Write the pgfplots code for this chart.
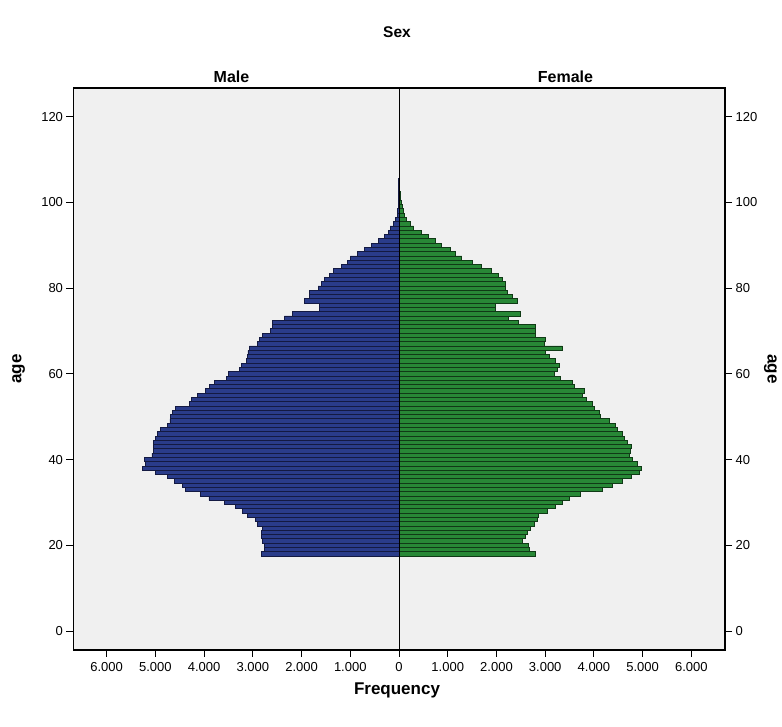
\documentclass[border=0pt]{standalone}
\usepackage{fontspec}
\setmainfont{Liberation Sans}
\usepackage{pgfplots}
\pgfplotsset{compat=1.18}
\definecolor{malefill}{RGB}{42,60,138}
\definecolor{maleedge}{RGB}{20,26,66}
\definecolor{femfill}{RGB}{40,136,54}
\definecolor{femedge}{RGB}{16,58,22}
\definecolor{bgg}{RGB}{240,240,240}
\begin{document}
\begin{tikzpicture}
\begin{axis}[
  at={(0,0)}, anchor=south west,
  width=651.5pt, height=562pt, scale only axis,
  xmin=-6680, xmax=6690, ymin=-4.43, ymax=126.7,
  axis background/.style={fill=bgg},
  axis line style={black, line width=1.1pt},
  tick align=outside, major tick length=7pt,
  tick style={black, line width=1pt},
  xtick pos=bottom, ytick pos=left,
  xtick={-6000,-5000,-4000,-3000,-2000,-1000,0,1000,2000,3000,4000,5000,6000},
  xticklabels={6.000,5.000,4.000,3.000,2.000,1.000,0,1.000,2.000,3.000,4.000,5.000,6.000},
  ytick={0,20,40,60,80,100,120},
  /pgf/number format/assume math mode=true,
  tick label style={font=\fontsize{13}{15}\selectfont},
  xticklabel style={yshift=-2pt},
  xbar, bar width=1, bar shift=0pt,
]
\addplot[xbar, fill=malefill, draw=maleedge, line width=0.9pt] coordinates {
(-2830,18) (-2760,19) (-2760,20) (-2800,21) (-2820,22) (-2830,23) (-2800,24) (-2900,25)
(-2950,26) (-3110,27) (-3210,28) (-3350,29) (-3590,30) (-3900,31) (-4070,32) (-4380,33)
(-4450,34) (-4600,35) (-4760,36) (-5000,37) (-5270,38) (-5200,39) (-5230,40) (-5070,41)
(-5030,42) (-5030,43) (-5030,44) (-5000,45) (-4950,46) (-4890,47) (-4760,48) (-4700,49)
(-4690,50) (-4650,51) (-4580,52) (-4300,53) (-4250,54) (-4140,55) (-3970,56) (-3880,57)
(-3790,58) (-3550,59) (-3500,60) (-3280,61) (-3240,62) (-3140,63) (-3110,64) (-3100,65)
(-3070,66) (-2900,67) (-2870,68) (-2800,69) (-2630,70) (-2590,71) (-2590,72) (-2350,73)
(-2180,74) (-1630,75) (-1630,76) (-1940,77) (-1840,78) (-1840,79) (-1660,80) (-1590,81)
(-1530,82) (-1420,83) (-1340,84) (-1190,85) (-1050,86) (-1000,87) (-860,88) (-710,89)
(-570,90) (-430,91) (-300,92) (-220,93) (-180,94) (-120,95) (-70,96) (-40,97)
(-30,98) (-20,99) (-15,100) (-10,101) (-5,102) (-5,103) (-3,104) (-2,105)
};
\addplot[xbar, fill=femfill, draw=femedge, line width=0.9pt] coordinates {
(2800,18) (2670,19) (2650,20) (2530,21) (2600,22) (2630,23) (2700,24) (2770,25)
(2840,26) (2870,27) (3040,28) (3220,29) (3350,30) (3490,31) (3730,32) (4180,33)
(4380,34) (4590,35) (4760,36) (4930,37) (4970,38) (4900,39) (4800,40) (4730,41)
(4740,42) (4760,43) (4690,44) (4630,45) (4590,46) (4490,47) (4450,48) (4320,49)
(4140,50) (4110,51) (4010,52) (3970,53) (3840,54) (3770,55) (3800,56) (3590,57)
(3560,58) (3320,59) (3180,60) (3250,61) (3290,62) (3220,63) (3080,64) (3010,65)
(3350,66) (2980,67) (3010,68) (2800,69) (2800,70) (2800,71) (2460,72) (2250,73)
(2490,74) (1980,75) (1980,76) (2430,77) (2320,78) (2220,79) (2190,80) (2190,81)
(2120,82) (2050,83) (1900,84) (1700,85) (1500,86) (1290,87) (1150,88) (1050,89)
(880,90) (740,91) (600,92) (470,93) (300,94) (230,95) (160,96) (120,97)
(90,98) (75,99) (55,100) (35,101) (20,102) (12,103) (8,104) (5,105) (3,106)
};
\draw[black, line width=1pt] (axis cs:0,-4.43) -- (axis cs:0,126.7);
\end{axis}
\begin{axis}[
  at={(0,0)}, anchor=south west,
  width=651.5pt, height=562pt, scale only axis,
  xmin=-6680, xmax=6690, ymin=-4.43, ymax=126.7,
  axis x line=none, axis y line*=right,
  axis line style={black, line width=1.1pt},
  tick align=outside, major tick length=7pt,
  tick style={black, line width=1pt},
  ytick={0,20,40,60,80,100,120},
  /pgf/number format/assume math mode=true,
  tick label style={font=\fontsize{13}{15}\selectfont},
]
\addplot[draw=none] coordinates {(0,0)};
\end{axis}
\node[font=\bfseries\fontsize{15.5}{18}\selectfont] at (323.5pt,618pt) {Sex};
\node[font=\bfseries\fontsize{16}{18}\selectfont] at (158pt,573pt) {Male};
\node[font=\bfseries\fontsize{16}{18}\selectfont] at (492pt,573pt) {Female};
\node[font=\bfseries\fontsize{17}{20}\selectfont] at (323.5pt,-40pt) {Frequency};
\node[font=\bfseries\fontsize{17}{20}\selectfont, rotate=90] at (-55pt,281pt) {age};
\node[font=\bfseries\fontsize{17}{20}\selectfont, rotate=-90] at (697pt,281pt) {age};
\path (-73.5pt,-77pt) rectangle (708.5pt,650pt);
\end{tikzpicture}
\end{document}
